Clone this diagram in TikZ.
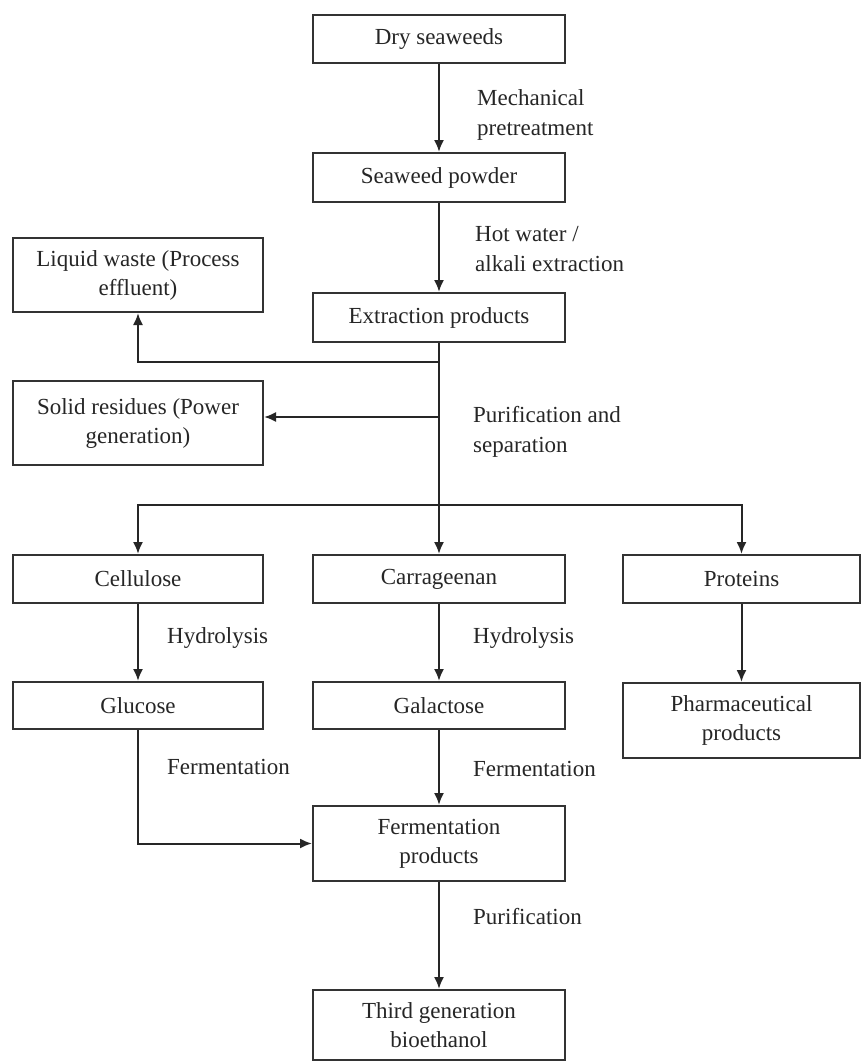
\documentclass[tikz,border=0pt]{standalone}
\usepackage{fontspec}
\setmainfont{Liberation Serif}
\usetikzlibrary{arrows.meta}
\begin{document}
\begin{tikzpicture}[x=1pt,y=-1pt,
  box/.style={draw=black!80, line width=2pt, inner sep=0pt, align=center,
    font=\fontsize{23}{29}\selectfont, text=black!85},
  lbl/.style={anchor=west, inner sep=0pt, align=left,
    font=\fontsize{23}{30}\selectfont, text=black!85},
  conn/.style={line width=2pt, draw=black!85, -{Latex[length=12pt,width=10pt]}},
  ln/.style={line width=2pt, draw=black!85}]
\useasboundingbox[fill=white] (0,0) rectangle (862,1062);

% boxes
\node[box, minimum width=252pt, minimum height=48pt] (dry) at (439,39) {Dry seaweeds};
\node[box, minimum width=252pt, minimum height=49pt] (powder) at (439,177.5) {Seaweed powder};
\node[box, minimum width=252pt, minimum height=49pt] (extr) at (439,317.5) {Extraction products};
\node[box, minimum width=250pt, minimum height=74pt] (liquid) at (138,275) {Liquid waste (Process\\effluent)};
\node[box, minimum width=250pt, minimum height=84pt] (solid) at (138,423) {Solid residues (Power\\generation)};
\node[box, minimum width=250pt, minimum height=48pt] (cell) at (138,579) {Cellulose};
\node[box, minimum width=252pt, minimum height=48pt] (carr) at (439,579) {Carrageenan};
\node[box, minimum width=237pt, minimum height=48pt] (prot) at (741.5,579) {Proteins};
\node[box, minimum width=250pt, minimum height=47pt] (gluc) at (138,705.5) {Glucose};
\node[box, minimum width=252pt, minimum height=47pt] (gala) at (439,705.5) {Galactose};
\node[box, minimum width=237pt, minimum height=75pt] (pharm) at (741.5,720.5) {Pharmaceutical\\products};
\node[box, minimum width=252pt, minimum height=75pt] (ferm) at (439,843.5) {Fermentation\\products};
\node[box, minimum width=252pt, minimum height=70pt] (third) at (439,1025) {Third generation\\bioethanol};

% helper coordinates
\coordinate (yl) at (0,362);
\coordinate (ys) at (0,417);
\coordinate (yb) at (0,505);

% connectors
\draw[conn] (dry) -- (powder);
\draw[conn] (powder) -- (extr);
\draw[conn] (extr.south |- yl) -| (liquid.south);
\draw[conn] (extr.south |- ys) -- (solid.east |- ys);
\draw[conn] (extr.south) -- (carr.north);
\draw[conn] (extr.south |- yb) -| (cell.north);
\draw[conn] (extr.south |- yb) -| (prot.north);
\draw[conn] (cell) -- (gluc);
\draw[conn] (carr) -- (gala);
\draw[conn] (prot) -- (pharm);
\draw[conn] (gluc.south) |- (ferm.west);
\draw[conn] (gala) -- (ferm);
\draw[conn] (ferm) -- (third);

% labels
\node[lbl] (lmech) at (477,115) {Mechanical\\pretreatment};
\node[lbl] (lhot) at (475,249) {Hot water /\\alkali extraction};
\node[lbl] (lpur) at (473,432) {Purification and\\separation};
\node[lbl] (lhyd1) at (167,638) {Hydrolysis};
\node[lbl] (lhyd2) at (473,638) {Hydrolysis};
\node[lbl] (lfer1) at (167,767) {Fermentation};
\node[lbl] (lfer2) at (473,769) {Fermentation};
\node[lbl] (lpur2) at (473,917) {Purification};
\end{tikzpicture}
\end{document}
